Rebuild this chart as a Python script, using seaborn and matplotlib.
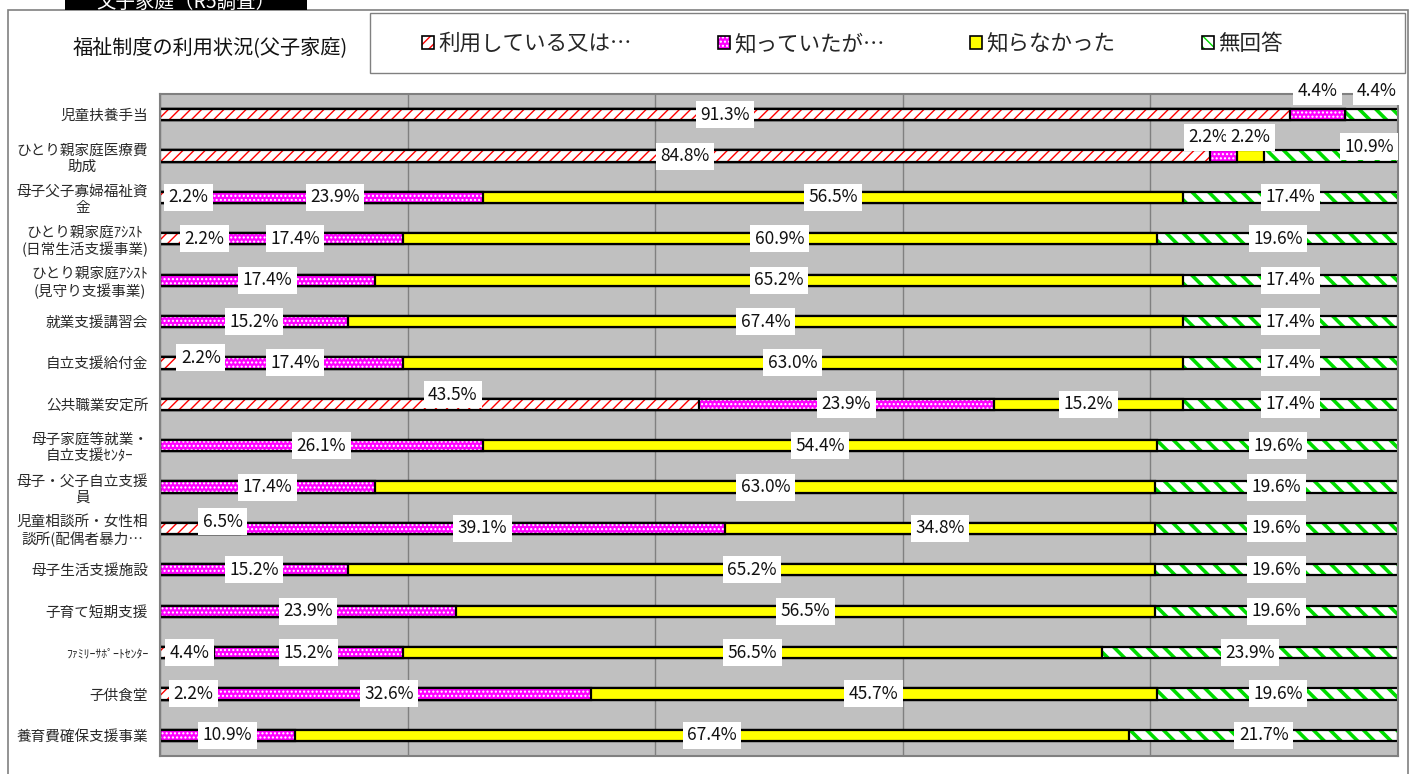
import numpy as np
import pandas as pd
import matplotlib
matplotlib.use('Agg')
import matplotlib.pyplot as plt
import matplotlib.patches as mpatches
from matplotlib.legend_handler import HandlerTuple
import seaborn as sns

# ─── data ─────────────────────────────────────────────────────────────
categories = [
    '児童扶養手当',
    'ひとり親家庭医療費\n助成',
    '母子父子寡婦福祉資\n金',
    'ひとり親家庭ｱｼｽﾄ\n(日常生活支援事業)',
    'ひとり親家庭ｱｼｽﾄ\n(見守り支援事業)',
    '就業支援講習会',
    '自立支援給付金',
    '公共職業安定所',
    '母子家庭等就業・\n自立支援ｾﾝﾀｰ',
    '母子・父子自立支援\n員',
    '児童相談所・女性相\n談所(配偶者暴力…',
    '母子生活支援施設',
    '子育て短期支援',
    'ﾌｧﾐﾘｰｻﾎﾟｰﾄｾﾝﾀｰ',
    '子供食堂',
    '養育費確保支援事業',
]
series_names = ['利用している又は…', '知っていたが…', '知らなかった', '無回答']
used      = [91.3, 84.8, 2.2, 2.2, 0, 0, 2.2, 43.5, 0, 0, 6.5, 0, 0, 4.4, 2.2, 0]
knew      = [4.4, 2.2, 23.9, 17.4, 17.4, 15.2, 17.4, 23.9, 26.1, 17.4, 39.1, 15.2, 23.9, 15.2, 32.6, 10.9]
unknown   = [0, 2.2, 56.5, 60.9, 65.2, 67.4, 63.0, 15.2, 54.4, 63.0, 34.8, 65.2, 56.5, 56.5, 45.7, 67.4]
no_answer = [4.4, 10.9, 17.4, 19.6, 17.4, 17.4, 17.4, 17.4, 19.6, 19.6, 19.6, 19.6, 19.6, 23.9, 19.6, 21.7]

# label nudges (row, series) -> (dx in %, dy in rows), like Excel's auto placement
label_nudge = {
    (0, 1): (0.0, -0.57), (0, 3): (0.4, -0.57),
    (1, 1): (-1.2, -0.46), (1, 2): (0.0, -0.46), (1, 3): (3.0, -0.22),
    (2, 0): (1.2, 0.0), (3, 0): (2.5, 0.0), (6, 0): (2.2, -0.12),
    (7, 0): (1.9, -0.23), (10, 0): (1.8, -0.16), (13, 0): (0.2, 0.0),
    (14, 0): (1.6, 0.0),
}

df = pd.DataFrame({'項目': categories, series_names[0]: used, series_names[1]: knew,
                   series_names[2]: unknown, series_names[3]: no_answer})
cum = df[series_names].cumsum(axis=1)

# ─── style ────────────────────────────────────────────────────────────
sns.set_style('white')
plt.rcParams['font.family'] = ['Noto Sans CJK JP', 'DejaVu Sans']
plt.rcParams['hatch.linewidth'] = 1.0

GRAY = '#808080'
# face, hatch, hatch colour, hatch linewidth
styles = [
    ('white',   '///',   '#FF0000', 1.0),
    ('#FF00FF', '....',  'white',   1.0),
    ('#FFFF00', '',      'black',   1.0),
    ('white',   '\\\\',  '#00DD00', 2.6),
]

fig = plt.figure(figsize=(14.11, 7.74), dpi=100)
ax = fig.add_axes([160 / 1411, 1 - 756 / 774, 1238 / 1411, 662 / 774])
ax.set_facecolor('#C0C0C0')

# stacked bars: draw cumulative totals from the last series to the first
for i in reversed(range(4)):
    face, hatch, hc, hlw = styles[i]
    n0 = len(ax.patches)
    sns.barplot(x=cum[series_names[i]], y=df['項目'], order=categories, orient='h',
                color=face, saturation=1, width=0.27, errorbar=None, ax=ax)
    new = list(ax.patches[n0:])
    for p in new:
        p.set_facecolor(face)
        p.set_edgecolor(hc)
        p.set_linewidth(0)
        if hatch:
            p.set_hatch(hatch)
            if hasattr(p, 'set_hatch_linewidth'):
                p.set_hatch_linewidth(hlw)
        ax.add_patch(mpatches.Rectangle(p.get_xy(), p.get_width(), p.get_height(),
                                        fill=False, edgecolor='black', lw=1.6,
                                        zorder=p.get_zorder()))

# value labels
vals = df[series_names].values
starts = cum.values - vals
for r in range(len(categories)):
    for s in range(4):
        v = vals[r, s]
        if v <= 0:
            continue
        dx, dy = label_nudge.get((r, s), (0.0, 0.0))
        ax.text(starts[r, s] + v / 2 + dx, r + dy, f'{v:.1f}%', ha='center', va='center',
                fontsize=12.5, color='#111111', zorder=6,
                bbox=dict(facecolor='white', edgecolor='none', pad=3.2))

ax.set_xlim(0, 100)
ax.set_ylim(15.5, -0.5)
ax.set_xticks([0, 20, 40, 60, 80, 100])
ax.tick_params(axis='x', length=0, labelbottom=False)
ax.grid(axis='x', color=GRAY, lw=1)
ax.grid(axis='y', visible=False)
ax.set_axisbelow(True)
ax.set_xlabel('')
ax.set_ylabel('')
ax.set_yticks(np.arange(-0.5, 16, 1), minor=True)
ax.tick_params(axis='y', which='major', length=0, pad=8.5, labelsize=10.5, labelcolor='#2a2a2a')
ax.tick_params(axis='y', which='minor', length=4, direction='in', color=GRAY)
for t in ax.get_yticklabels():
    t.set_multialignment('center')
    if 'ﾌｧﾐﾘｰ' in t.get_text():
        t.set_fontsize(8.5)
for sp in ax.spines.values():
    sp.set_visible(True)
    sp.set_color(GRAY)
    sp.set_linewidth(1.5)

# ─── frame, tab, title, legend ────────────────────────────────────────
fig.patches.append(mpatches.Rectangle((8 / 1411, -0.05), 1400 / 1411, 1 - 10 / 774 + 0.05,
                                      transform=fig.transFigure, fill=False,
                                      edgecolor=GRAY, lw=1.2))
fig.patches.append(mpatches.Rectangle((65 / 1411, 1 - 10 / 774), 242 / 1411, 0.05,
                                      transform=fig.transFigure, facecolor='black',
                                      edgecolor='none'))
fig.text(186 / 1411, 1 - 8 / 774, '父子家庭（R5調査）', color='white', fontsize=14,
         ha='center', va='baseline')
fig.text(73 / 1411, 1 - 48 / 774, '福祉制度の利用状況(父子家庭)', fontsize=14.5,
         ha='left', va='center', color='#111111')
fig.patches.append(mpatches.Rectangle((370 / 1411, 1 - 73 / 774), 1035 / 1411, 60 / 774,
                                      transform=fig.transFigure, fill=False,
                                      edgecolor=GRAY, lw=1))

handles = []
for face, hatch, hc, hlw in styles:
    leg_hatch = '\\\\\\' if hatch.startswith('\\') else hatch
    h1 = mpatches.Patch(facecolor=face, hatch=leg_hatch, edgecolor=hc, lw=0)
    h2 = mpatches.Patch(fill=False, edgecolor='black', lw=1.2)
    handles.append((h1, h2))
fig.legend(handles, series_names, handler_map={tuple: HandlerTuple(ndivide=1, pad=0)},
           loc='center', bbox_to_anchor=(0.604, 1 - 44 / 774), ncol=4, frameon=False,
           fontsize=15.5, handlelength=0.55, handleheight=0.55, handletextpad=0.2,
           columnspacing=4.0)

fig.savefig('out.png', dpi=100, facecolor='white')
